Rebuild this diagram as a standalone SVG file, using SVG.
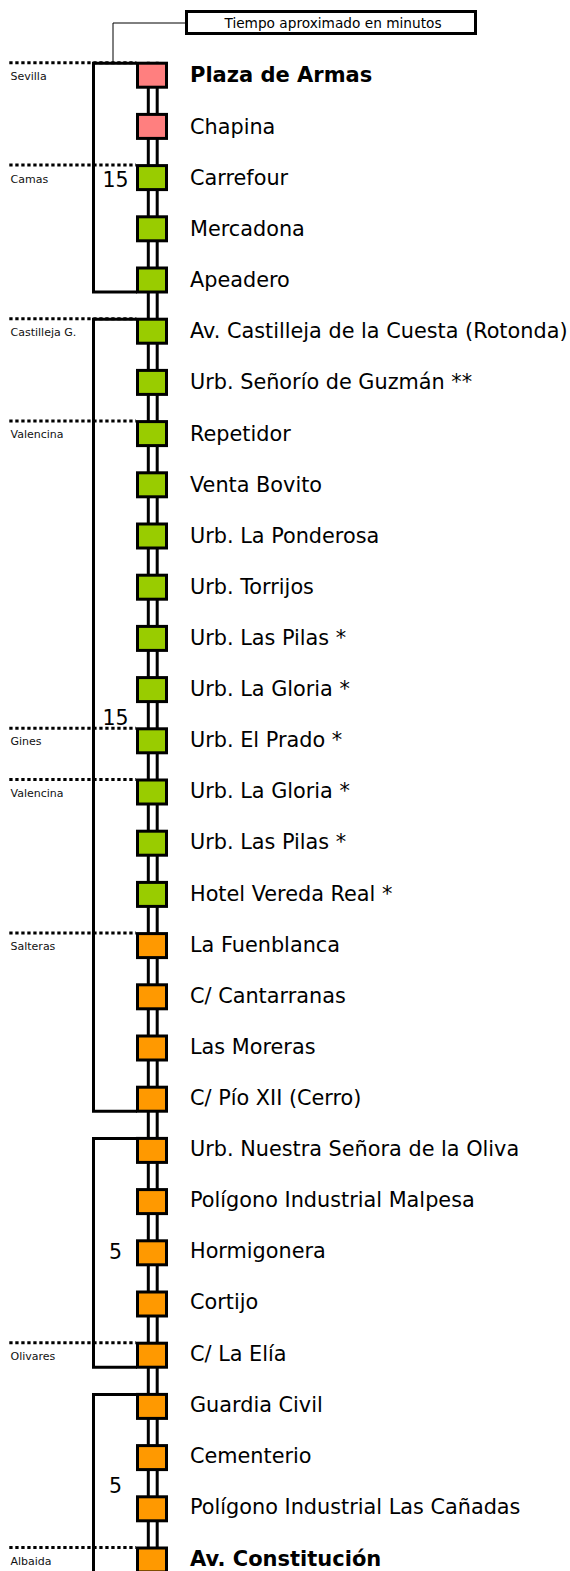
<svg xmlns="http://www.w3.org/2000/svg" width="570" height="1571" viewBox="0 0 570 1571">
<style>
.bg{fill:#ffffff}
.sq{stroke:#000;stroke-width:3}
.pk{fill:#ff7f7f}
.gr{fill:#99cc00}
.or{fill:#ff9900}
.lbl{font-family:"DejaVu Sans",Verdana,sans-serif;font-size:20.8px;fill:#000}
.b{font-weight:bold;font-size:21px}
.num{font-family:"DejaVu Sans",Verdana,sans-serif;font-size:20.5px;fill:#000}
.town{font-family:"DejaVu Sans",Verdana,sans-serif;font-size:11px;fill:#111}
.track{stroke:#000;stroke-width:3;fill:none}
.br{stroke:#000;stroke-width:3;fill:none}
.dot{stroke:#000;stroke-width:3;stroke-dasharray:3.3 2.7;fill:none}
.lead{stroke:#000;stroke-width:1;fill:none}
</style>
<rect class="bg" x="0" y="0" width="570" height="1571"/>
<g id="legend">
<path class="lead" d="M113,62 V23 H186"/>
<rect x="186.5" y="11.5" width="289" height="22" fill="#fff" stroke="#000" stroke-width="3"/>
<text x="333" y="28.3" text-anchor="middle" style="font-family:'DejaVu Sans',Verdana,sans-serif;font-size:13.7px">Tiempo aproximado en minutos</text>
</g>
<g id="towns">
<path class="dot" d="M9.3,62.7 H136"/><text class="town" x="10.5" y="80">Sevilla</text>
<path class="dot" d="M9.3,165.1 H136"/><text class="town" x="10.5" y="182.5">Camas</text>
<path class="dot" d="M9.3,318.7 H136"/><text class="town" x="10.5" y="335.5">Castilleja G.</text>
<path class="dot" d="M9.3,421.1 H136"/><text class="town" x="10.5" y="438">Valencina</text>
<path class="dot" d="M9.3,728.3 H136"/><text class="town" x="10.5" y="745.3">Gines</text>
<path class="dot" d="M9.3,779.5 H136"/><text class="town" x="10.5" y="796.5">Valencina</text>
<path class="dot" d="M9.3,933.1 H136"/><text class="town" x="10.5" y="950">Salteras</text>
<path class="dot" d="M9.3,1342.7 H136"/><text class="town" x="10.5" y="1359.7">Olivares</text>
<path class="dot" d="M9.3,1547.5 H136"/><text class="town" x="10.5" y="1564.5">Albaida</text>
</g>
<g id="connectors">
<path class="track" d="M148.3,61.7 V1571 M157.2,61.7 V1571"/>
<path class="br" d="M137,63.2 H93.5 V292 H137"/>
<path class="br" d="M137,319.2 H93.5 V1111.2 H137"/>
<path class="br" d="M137,1138.4 H93.5 V1367.2 H137"/>
<path class="br" d="M137,1394.4 H93.5 V1575"/>
</g>
<g id="times">
<text class="num" x="102.5" y="186.5">15</text>
<text class="num" x="102.5" y="725">15</text>
<text class="num" x="109" y="1258.5">5</text>
<text class="num" x="109" y="1493">5</text>
</g>
<g id="s1"><rect class="sq pk" x="137.5" y="63.2" width="29" height="24"/><text class="lbl b" x="190" y="82">Plaza de Armas</text></g>
<g id="s2"><rect class="sq pk" x="137.5" y="114.4" width="29" height="24"/><text class="lbl" x="190" y="133.8">Chapina</text></g>
<g id="s3"><rect class="sq gr" x="137.5" y="165.6" width="29" height="24"/><text class="lbl" x="190" y="184.9">Carrefour</text></g>
<g id="s4"><rect class="sq gr" x="137.5" y="216.8" width="29" height="24"/><text class="lbl" x="190" y="236">Mercadona</text></g>
<g id="s5"><rect class="sq gr" x="137.5" y="268" width="29" height="24"/><text class="lbl" x="190" y="287.2">Apeadero</text></g>
<g id="s6"><rect class="sq gr" x="137.5" y="319.2" width="29" height="24"/><text class="lbl" x="190" y="338.3">Av. Castilleja de la Cuesta (Rotonda)</text></g>
<g id="s7"><rect class="sq gr" x="137.5" y="370.4" width="29" height="24"/><text class="lbl" x="190" y="389.4">Urb. Señorío de Guzmán **</text></g>
<g id="s8"><rect class="sq gr" x="137.5" y="421.6" width="29" height="24"/><text class="lbl" x="190" y="440.5">Repetidor</text></g>
<g id="s9"><rect class="sq gr" x="137.5" y="472.8" width="29" height="24"/><text class="lbl" x="190" y="491.6">Venta Bovito</text></g>
<g id="s10"><rect class="sq gr" x="137.5" y="524" width="29" height="24"/><text class="lbl" x="190" y="542.7">Urb. La Ponderosa</text></g>
<g id="s11"><rect class="sq gr" x="137.5" y="575.2" width="29" height="24"/><text class="lbl" x="190" y="593.8">Urb. Torrijos</text></g>
<g id="s12"><rect class="sq gr" x="137.5" y="626.4" width="29" height="24"/><text class="lbl" x="190" y="644.9">Urb. Las Pilas *</text></g>
<g id="s13"><rect class="sq gr" x="137.5" y="677.6" width="29" height="24"/><text class="lbl" x="190" y="696.1">Urb. La Gloria *</text></g>
<g id="s14"><rect class="sq gr" x="137.5" y="728.8" width="29" height="24"/><text class="lbl" x="190" y="747.2">Urb. El Prado *</text></g>
<g id="s15"><rect class="sq gr" x="137.5" y="780" width="29" height="24"/><text class="lbl" x="190" y="798.3">Urb. La Gloria *</text></g>
<g id="s16"><rect class="sq gr" x="137.5" y="831.2" width="29" height="24"/><text class="lbl" x="190" y="849.4">Urb. Las Pilas *</text></g>
<g id="s17"><rect class="sq gr" x="137.5" y="882.4" width="29" height="24"/><text class="lbl" x="190" y="900.5">Hotel Vereda Real *</text></g>
<g id="s18"><rect class="sq or" x="137.5" y="933.6" width="29" height="24"/><text class="lbl" x="190" y="951.6">La Fuenblanca</text></g>
<g id="s19"><rect class="sq or" x="137.5" y="984.8" width="29" height="24"/><text class="lbl" x="190" y="1002.7">C/ Cantarranas</text></g>
<g id="s20"><rect class="sq or" x="137.5" y="1036" width="29" height="24"/><text class="lbl" x="190" y="1053.9">Las Moreras</text></g>
<g id="s21"><rect class="sq or" x="137.5" y="1087.2" width="29" height="24"/><text class="lbl" x="190" y="1105">C/ Pío XII (Cerro)</text></g>
<g id="s22"><rect class="sq or" x="137.5" y="1138.4" width="29" height="24"/><text class="lbl" x="190" y="1156.1">Urb. Nuestra Señora de la Oliva</text></g>
<g id="s23"><rect class="sq or" x="137.5" y="1189.6" width="29" height="24"/><text class="lbl" x="190" y="1207.2">Polígono Industrial Malpesa</text></g>
<g id="s24"><rect class="sq or" x="137.5" y="1240.8" width="29" height="24"/><text class="lbl" x="190" y="1258.3">Hormigonera</text></g>
<g id="s25"><rect class="sq or" x="137.5" y="1292" width="29" height="24"/><text class="lbl" x="190" y="1309.4">Cortijo</text></g>
<g id="s26"><rect class="sq or" x="137.5" y="1343.2" width="29" height="24"/><text class="lbl" x="190" y="1360.5">C/ La Elía</text></g>
<g id="s27"><rect class="sq or" x="137.5" y="1394.4" width="29" height="24"/><text class="lbl" x="190" y="1411.7">Guardia Civil</text></g>
<g id="s28"><rect class="sq or" x="137.5" y="1445.6" width="29" height="24"/><text class="lbl" x="190" y="1462.8">Cementerio</text></g>
<g id="s29"><rect class="sq or" x="137.5" y="1496.8" width="29" height="24"/><text class="lbl" x="190" y="1513.9">Polígono Industrial Las Cañadas</text></g>
<g id="s30"><rect class="sq or" x="137.5" y="1548" width="29" height="24"/><text class="lbl b" x="190" y="1566">Av. Constitución</text></g>
</svg>
